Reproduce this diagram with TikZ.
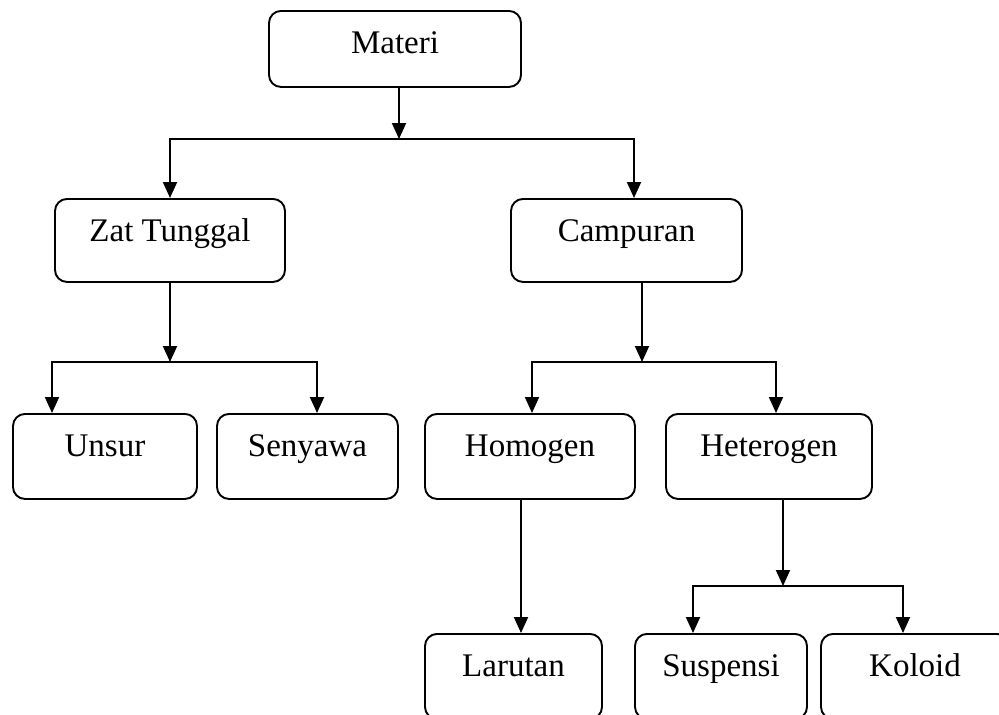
\documentclass[tikz,border=0pt]{standalone}
\usepackage{fontspec}
\setmainfont{Liberation Serif}
\usetikzlibrary{arrows.meta}
\tikzset{every node/.style={align=center}, >={Triangle[length=16pt,width=14pt]}, font=\fontsize{33}{39}\selectfont,
  kotak/.style={draw, rounded corners=12pt, inner sep=0pt, anchor=north, text height=43pt, text depth=42pt, minimum width=#1}}

\begin{document}
\begin{tikzpicture}[x=1pt, y=-1pt, line width=1.9pt]
            \useasboundingbox (0,0) rectangle (999,715);
            \clip (0,0) rectangle (999,715);
            \node [kotak=252pt, text depth=33pt] (materi) at (395,10) {Materi};
            \node [kotak=230pt, text depth=40pt] (zat) at (170,198) {Zat Tunggal};
            \node [kotak=231pt, text depth=40pt] (campuran) at (626.5,198) {Campuran};
            \node [kotak=184pt] (unsur) at (105,413) {Unsur};
            \node [kotak=181pt] (senyawa) at (307.5,413) {Senyawa};
            \node [kotak=210pt] (homogen) at (530,413) {Homogen};
            \node [kotak=206pt] (heterogen) at (769,413) {Heterogen};
            \node [kotak=177pt] (larutan) at (513.5,633) {Larutan};
            \node [kotak=172pt] (suspensi) at (721,633) {Suspensi};
            \node [kotak=188pt] (koloid) at (915,633) {Koloid};
            % titik cabang
            \coordinate (j1) at (399,139);
            \coordinate (j2) at (170,362);
            \coordinate (j3) at (642,362);
            \coordinate (j4) at (783,586);
            \draw[->] (materi.south -| j1) -- (j1);
            \draw[->] (j1) -| (zat.north);
            \draw[->] (j1) -| ([xshift=7.5pt]campuran.north);
            \draw[->] (zat.south) -- (j2);
            \draw[->] (j2) -| ([xshift=-53pt]unsur.north);
            \draw[->] (j2) -| ([xshift=9.5pt]senyawa.north);
            \draw[->] ([xshift=15.5pt]campuran.south) -- (j3);
            \draw[->] (j3) -| ([xshift=2pt]homogen.north);
            \draw[->] (j3) -| ([xshift=7pt]heterogen.north);
            \draw[->] ([xshift=-9pt]homogen.south) -- ([xshift=-9pt]homogen.south |- larutan.north);
            \draw[->] ([xshift=14pt]heterogen.south) -- (j4);
            \draw[->] (j4) -| ([xshift=-28pt]suspensi.north);
            \draw[->] (j4) -| ([xshift=-12pt]koloid.north);
        \end{tikzpicture}
\end{document}
